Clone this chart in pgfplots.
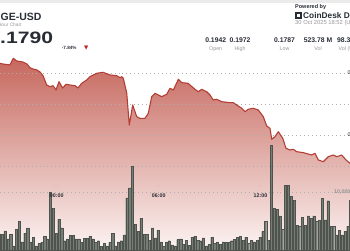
\documentclass[border=0pt]{standalone}
\usepackage{pgfplots}
\pgfplotsset{compat=1.18}
\usepackage{pgfplotstable}
\usepackage{fontspec}
\setmainfont{Liberation Sans}
\newfontfamily\symfont{DejaVu Sans}
\definecolor{lineRed}{RGB}{180,62,52}
\definecolor{fillTop}{RGB}{198,104,94}
\definecolor{fillBot}{RGB}{252,244,243}
\definecolor{barFill}{RGB}{118,125,116}
\definecolor{barDraw}{RGB}{78,84,77}
\definecolor{gridGray}{RGB}{175,175,175}
\definecolor{textDark}{RGB}{40,44,52}
\definecolor{textGray}{RGB}{150,150,150}
\definecolor{downRed}{RGB}{200,30,30}

\pgfplotstableread{
x y
-19.77 0.19656
-18.71 0.19645
-16.24 0.19629
-15.07 0.19737
-13.87 0.19694
-11.65 0.19677
-10.24 0.19645
-9.18 0.19585
-8.12 0.19565
-6.71 0.19548
-5.65 0.19516
-4.59 0.19456
-3.28 0.19306
-2.12 0.19279
-1.06 0.19295
0 0.19226
1.06 0.19360
2.36 0.19258
3.53 0.19318
4.94 0.19306
6.71 0.19295
7.77 0.19258
9.07 0.19334
10.84 0.19387
12.0 0.19440
14.37 0.19495
16.59 0.19511
19.06 0.19468
21.43 0.19456
22.59 0.19424
23.19 0.19440
23.76 0.19415
24.96 0.19177
25.87 0.18661
27.07 0.18984
28.49 0.18795
29.65 0.18769
31.42 0.18769
32.58 0.18850
33.78 0.19118
34.95 0.19173
37.31 0.19118
39.08 0.19156
40.25 0.19253
41.41 0.19226
42.82 0.19360
43.17 0.19398
44.37 0.19344
46.59 0.19334
49.06 0.19237
50.23 0.19198
51.43 0.19237
53.19 0.19198
54.36 0.19145
55.52 0.19065
56.72 0.19076
58.49 0.19037
61.42 0.19021
62.58 0.19021
63.78 0.18984
65.55 0.18931
66.71 0.18876
67.88 0.18915
69.64 0.18931
71.41 0.18903
73.17 0.18795
74.37 0.18645
75.54 0.18608
76.14 0.18431
77.30 0.18473
78.47 0.18553
80.02 0.18447
81.19 0.18285
82.60 0.18258
83.76 0.18269
84.96 0.18231
87.29 0.18215
90.26 0.18177
91.42 0.18205
92.59 0.18097
94.35 0.18069
96.12 0.18150
97.88 0.18177
99.08 0.18150
100.85 0.18177
102.36 0.18097
103.78 0.18044
}\pricetab

\pgfplotstableread{
x y
-19.77 0.16645
-19.77 0.19656
-18.71 0.19645
-16.24 0.19629
-15.07 0.19737
-13.87 0.19694
-11.65 0.19677
-10.24 0.19645
-9.18 0.19585
-8.12 0.19565
-6.71 0.19548
-5.65 0.19516
-4.59 0.19456
-3.28 0.19306
-2.12 0.19279
-1.06 0.19295
0 0.19226
1.06 0.19360
2.36 0.19258
3.53 0.19318
4.94 0.19306
6.71 0.19295
7.77 0.19258
9.07 0.19334
10.84 0.19387
12.0 0.19440
14.37 0.19495
16.59 0.19511
19.06 0.19468
21.43 0.19456
22.59 0.19424
23.19 0.19440
23.76 0.19415
24.96 0.19177
25.87 0.18661
27.07 0.18984
28.49 0.18795
29.65 0.18769
31.42 0.18769
32.58 0.18850
33.78 0.19118
34.95 0.19173
37.31 0.19118
39.08 0.19156
40.25 0.19253
41.41 0.19226
42.82 0.19360
43.17 0.19398
44.37 0.19344
46.59 0.19334
49.06 0.19237
50.23 0.19198
51.43 0.19237
53.19 0.19198
54.36 0.19145
55.52 0.19065
56.72 0.19076
58.49 0.19037
61.42 0.19021
62.58 0.19021
63.78 0.18984
65.55 0.18931
66.71 0.18876
67.88 0.18915
69.64 0.18931
71.41 0.18903
73.17 0.18795
74.37 0.18645
75.54 0.18608
76.14 0.18431
77.30 0.18473
78.47 0.18553
80.02 0.18447
81.19 0.18285
82.60 0.18258
83.76 0.18269
84.96 0.18231
87.29 0.18215
90.26 0.18177
91.42 0.18205
92.59 0.18097
94.35 0.18069
96.12 0.18150
97.88 0.18177
99.08 0.18150
100.85 0.18177
102.36 0.18097
103.78 0.18044
103.78 0.16645
}\areatab

\pgfplotstableread{
x v
-20 2.8
-19 2.7
-18 3.3
-17 1.9
-16 2.7
-15 0.7
-14 3.6
-13 5.0
-12 1.4
-11 2.9
-10 3.7
-9 1.4
-8 2.2
-7 0.7
-6 1.2
-5 1.3
-4 2.4
-3 1.9
-2 9.9
-1 7.2
0 2.9
1 5.3
2 3.8
3 1.6
4 1.9
5 2.5
6 2.5
7 1.9
8 1.9
9 1.3
10 2.0
11 2.0
12 2.4
13 1.9
14 1.3
15 1.6
16 0.6
17 1.2
18 0.7
19 1.3
20 2.9
21 0.7
22 1.4
23 1.6
24 2.6
25 9.0
26 10.7
27 14.4
28 4.4
29 3.2
30 5.5
31 2.7
32 2.7
33 1.7
34 3.8
35 2.1
36 3.4
37 1.4
38 0.6
39 1.4
40 1.6
41 0.9
42 0.7
43 1.8
44 1.9
45 1.0
46 1.7
47 0.8
48 2.2
49 2.4
50 1.7
51 1.6
52 2.1
53 0.7
54 1.0
55 2.2
56 1.1
57 1.4
58 1.0
59 1.4
60 1.3
61 1.3
62 1.6
63 1.8
64 2.2
65 2.4
66 1.7
67 2.2
68 1.2
69 1.7
70 1.4
71 1.7
72 2.2
73 3.2
74 4.9
75 1.7
76 18.1
77 7.2
78 7.0
79 5.9
80 3.6
81 11.2
82 11.2
83 9.2
84 8.6
85 4.3
86 4.1
87 5.6
88 4.3
89 5.9
90 5.5
91 5.9
92 4.9
93 5.1
94 8.9
95 5.2
96 8.5
97 4.1
98 4.1
99 2.6
100 3.4
101 2.6
102 3.2
103 4.1
104 8.6
}\voltab

\pgfplotsset{
  base/.style={
    scale only axis, width=350pt, height=250pt,
    at={(0pt,0pt)}, anchor=south west,
    xmin=-19.77, xmax=103.78,
    axis line style={draw=none}, tick style={draw=none},
    xtick=\empty, xticklabels={}, yticklabels={},
    clip=true,
  }
}

\begin{document}
\begin{tikzpicture}
% price area with grid
\begin{axis}[base, ymin=0.16645, ymax=0.20677,
  ytick={0.180,0.185,0.190,0.195}, ymajorgrids, axis on top,
  grid style={gridGray, line width=0.55pt, dash pattern=on 0.55pt off 3.4pt}]
\addplot[draw=none, top color=fillTop, bottom color=fillBot] table[x=x,y=y] {\areatab};
\end{axis}
% volume bars
\begin{axis}[base, ymin=0, ymax=43.103,
  ytick={10}, ymajorgrids,
  grid style={gridGray, line width=0.55pt, dash pattern=on 0.55pt off 3.4pt}]
\addplot[ybar, bar width=0.78, fill=barFill, draw=barDraw, line width=0.3pt] table[x=x,y=v] {\voltab};
\end{axis}
% price line
\begin{axis}[base, ymin=0.16645, ymax=0.20677, ytick=\empty]
\addplot[lineRed, line width=1.1pt, line join=round] table[x=x,y=y] {\pricetab};
\end{axis}

% time labels and volume label
\begin{scope}[font=\fontsize{5.3}{6}\selectfont\bfseries, text=textDark]
\node at (56.7pt,54.5pt) {00:00};
\node at (158.7pt,54.5pt) {06:00};
\node at (260.5pt,54.5pt) {12:00};
\end{scope}
\fill[textGray] (56pt,64.3pt) circle (0.35pt);
\fill[textGray] (158.3pt,64.3pt) circle (0.35pt);
\fill[textGray] (260pt,64.3pt) circle (0.35pt);
\node[anchor=west, inner sep=0pt, text=textGray, font=\fontsize{5.3}{6}\selectfont\bfseries] at (334pt,57.5pt) {10,000,000};
\node[anchor=west, inner sep=0pt, text=textDark, font=\fontsize{5.3}{6}\selectfont] at (347.5pt,177pt) {0.1950};
\node[anchor=west, inner sep=0pt, text=textDark, font=\fontsize{5.3}{6}\selectfont] at (347.5pt,115.5pt) {0.1850};

% header
\fill[black!8] (0pt,247.5pt) rectangle (350pt,250pt);
\node[anchor=base east, inner sep=0pt, text=textDark, font=\fontsize{10.5}{12}\selectfont\bfseries] at (41.7pt,230pt) {DOGE-USD};
\node[anchor=base east, inner sep=0pt, text=textGray, font=\fontsize{4.8}{5}\selectfont] at (21.7pt,223.5pt) {24 Hour Chart};
\node[anchor=base east, inner sep=0pt, xscale=1.28, text=textDark, font=\fontsize{16.5}{18}\selectfont\bfseries] at (53.3pt,207pt) {0.1790};
\node[anchor=base west, inner sep=0pt, text=textDark, font=\fontsize{4.6}{5}\selectfont\bfseries] at (61.7pt,201pt) {-7.84\%};
\node[anchor=base west, inner sep=0pt, text=downRed, font=\symfont\fontsize{5.5}{6}\selectfont] at (84pt,200.5pt) {▼};

\node[anchor=base west, inner sep=0pt, text=textDark, font=\fontsize{5.5}{6}\selectfont\bfseries] at (295pt,242pt) {Powered by};
\fill[textDark] (295pt,231.5pt) rectangle (301.5pt,238pt);
\fill[white] (297pt,233.5pt) rectangle (299.5pt,236pt);
\node[anchor=base west, inner sep=0pt, text=textDark, font=\fontsize{8.3}{9}\selectfont\bfseries] at (303pt,231.5pt) {CoinDesk Data};
\node[anchor=base west, inner sep=0pt, text=textGray, font=\fontsize{5.8}{6}\selectfont] at (295pt,226pt) {30 Oct 2025 18:52 (UTC)};

\begin{scope}[font=\fontsize{6.8}{7}\selectfont\bfseries, text=textDark, inner sep=0pt]
\node[anchor=base] at (215.7pt,207.3pt) {0.1942};
\node[anchor=base] at (240pt,207.3pt) {0.1972};
\node[anchor=base] at (284.5pt,207.3pt) {0.1787};
\node[anchor=base] at (318pt,207.3pt) {523.78 M};
\node[anchor=base west] at (337pt,207.3pt) {98.31 M};
\end{scope}
\begin{scope}[font=\fontsize{5.3}{6}\selectfont, text=textGray, inner sep=0pt]
\node[anchor=base] at (215.7pt,199.7pt) {Open};
\node[anchor=base] at (240pt,199.7pt) {High};
\node[anchor=base] at (284.5pt,199.7pt) {Low};
\node[anchor=base] at (318pt,199.7pt) {Vol};
\node[anchor=base west] at (338.5pt,199.7pt) {Vol (USD)};
\end{scope}

\pgfresetboundingbox
\path[use as bounding box] (0pt,0pt) rectangle (350pt,250pt);
\end{tikzpicture}
\end{document}
